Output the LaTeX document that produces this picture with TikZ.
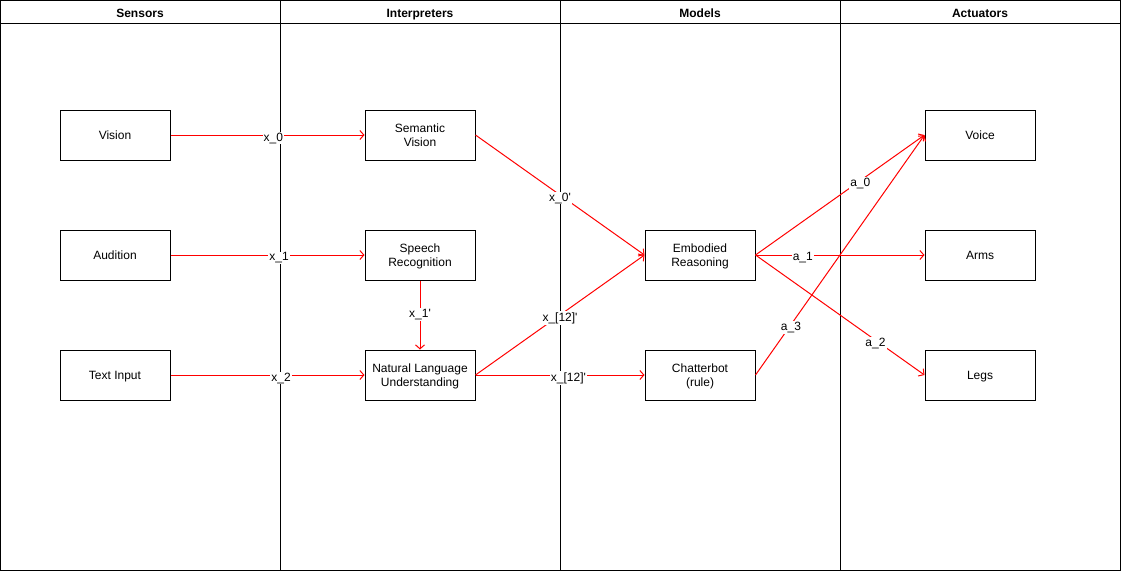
\documentclass[tikz,border=0pt]{standalone}
\usepackage{fontspec}
\setmainfont{Liberation Sans}
\usetikzlibrary{arrows.meta}

\tikzset{
	box/.style={draw, line width=1pt, minimum width=110pt, minimum height=50pt,
		align=center, inner sep=0pt, font=\fontsize{12}{14}\selectfont},
	link/.style={draw=red, line width=1pt, -{Straight Barb[length=4pt,width=9pt]}},
	lbl/.style={fill=white, inner sep=1pt, yshift=-3pt, font=\fontsize{12}{14}\selectfont},
	lane/.style={anchor=base, font=\bfseries\fontsize{12}{14}\selectfont},
}

% fixed height of first line and depth of last line
\newcommand{\boxtext}[1]{\rule{0pt}{11pt}#1\rule[-3pt]{0pt}{3pt}}

\begin{document}
\begin{tikzpicture}[x=1pt,y=-1pt]

				\useasboundingbox (0,0) rectangle (1121,571);

				% Lanes

				\draw[line width=1pt] (0.5,0.5) rectangle (1120.5,570.5);
				\draw[line width=1pt] (0.5,23) -- (1120.5,23);
				\foreach \x in {280,560,840}
				\draw[line width=1pt] (\x,0.5) -- (\x,570.5);

				\node[lane] (sensors) at (140,17) {Sensors};
				\node[lane] (interpreters) at (420,17) {Interpreters};
				\node[lane] (models) at (700,17) {Models};
				\node[lane] (actuators) at (980,17) {Actuators};

				% Boxes

				\node[box] (vision) at (115,135) {\boxtext{Vision}};
				\node[box] (audition) at (115,255) {\boxtext{Audition}};
				\node[box] (textin) at (115,375) {\boxtext{Text Input}};

				\node[box] (semvis) at (420,135) {\boxtext{Semantic\\Vision}};
				\node[box] (speech) at (420,255) {\boxtext{Speech\\Recognition}};
				\node[box] (nlu) at (420,375) {\boxtext{Natural Language\\Understanding}};

				\node[box] (embodied) at (700,255) {\boxtext{Embodied\\Reasoning}};
				\node[box] (chatbot) at (700,375) {\boxtext{Chatterbot\\(rule)}};

				\node[box] (voice) at (980,135) {\boxtext{Voice}};
				\node[box] (arms) at (980,255) {\boxtext{Arms}};
				\node[box] (legs) at (980,375) {\boxtext{Legs}};

				% Links

				\draw[link] (vision) -- node[lbl, pos=0.53] {x\_0} (semvis);
				\draw[link] (audition) -- node[lbl, pos=0.56] {x\_1} (speech);
				\draw[link] (textin) -- node[lbl, pos=0.57] {x\_2} (nlu);

				\draw[link] (semvis.east) -- node[lbl] {x\_0\textquotesingle} (embodied.west);
				\draw[link] (speech) -- node[lbl, pos=0.45] {x\_1\textquotesingle} (nlu);
				\draw[link] (nlu.east) -- node[lbl] {x\_[12]\textquotesingle} (embodied.west);
				\draw[link] (nlu) -- node[lbl, pos=0.55] {x\_[12]\textquotesingle} (chatbot);

				\draw[link] (embodied.east) -- node[lbl, pos=0.62] {a\_0} (voice.west);
				\draw[link] (embodied.east) -- node[lbl, pos=0.28] {a\_1} (arms.west);
				\draw[link] (embodied.east) -- node[lbl, pos=0.71] {a\_2} (legs.west);
				\draw[link] (chatbot.east) -- node[lbl, pos=0.21] {a\_3} (voice.west);

			\end{tikzpicture}
\end{document}
